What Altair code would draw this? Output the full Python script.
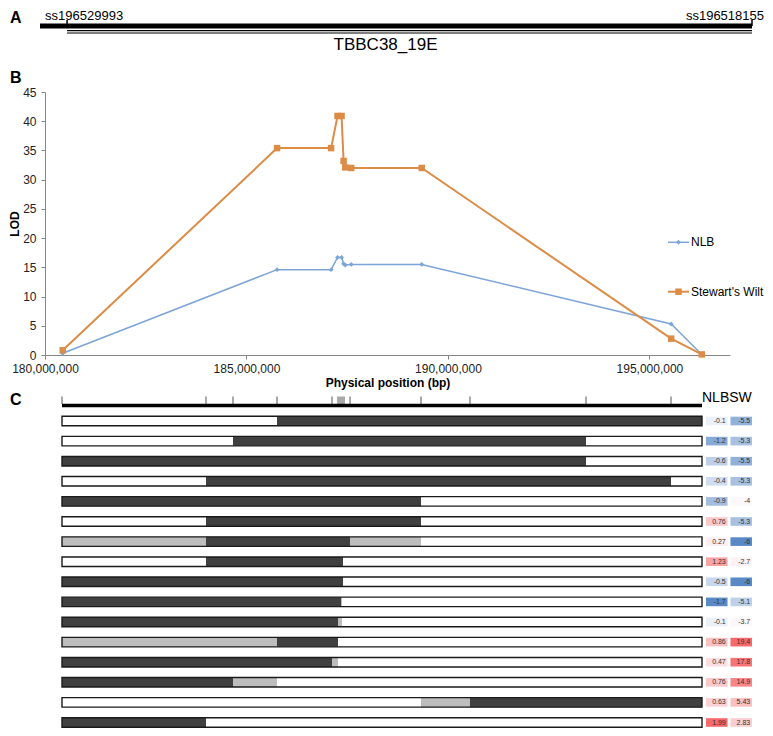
import altair as alt
import numpy as np
import pandas as pd

FONT = "Liberation Sans"

# ---------------- Panel A : physical map of the clone ----------------
a_marker_names = ["ss196529993", "ss196518155"]
a_marker_pos = [0.038, 1.0]          # relative position along the drawn region
a_region = [0.0, 1.0]
a_clone = "TBBC38_19E"

# ---------------- Panel B : LOD profiles ----------------
b_positions = [180440000, 185760000, 187100000, 187260000, 187360000, 187410000,
               187450000, 187600000, 189350000, 195540000, 196300000]
b_lod_nlb = [0.3, 14.6, 14.6, 16.7, 16.7, 15.6, 15.4, 15.5, 15.5, 5.3, 0.1]
b_lod_sw = [0.8, 35.4, 35.4, 40.9, 40.9, 33.2, 32.1, 32.0, 32.0, 2.8, 0.1]
b_series = ["NLB", "Stewart's Wilt"]
b_colors = ["#7DA4D8", "#DC8C46"]
b_xticks = [180000000, 185000000, 190000000, 195000000]
b_yticks = [0, 5, 10, 15, 20, 25, 30, 35, 40, 45]

# ---------------- Panel C : recombinant haplotypes ----------------
c_marker_ticks = [0, 144, 171, 215, 270, 276, 278, 280, 282, 288, 359, 408, 524, 609]
c_length = 640
c_row_breaks = [
    [0, 215, 640],
    [0, 171, 524, 640],
    [0, 524, 640],
    [0, 144, 609, 640],
    [0, 359, 640],
    [0, 144, 359, 640],
    [0, 144, 288, 359, 640],
    [0, 144, 281, 640],
    [0, 281, 640],
    [0, 279, 280, 640],
    [0, 276, 280, 640],
    [0, 215, 276, 640],
    [0, 270, 276, 640],
    [0, 171, 215, 640],
    [0, 359, 408, 640],
    [0, 144, 640],
]
c_row_states = [
    ["W", "D"],
    ["W", "D", "W"],
    ["D", "W"],
    ["W", "D", "W"],
    ["D", "W"],
    ["W", "D", "W"],
    ["G", "D", "G", "W"],
    ["W", "D", "W"],
    ["D", "W"],
    ["D", "G", "W"],
    ["D", "G", "W"],
    ["G", "D", "W"],
    ["D", "G", "W"],
    ["D", "G", "W"],
    ["W", "G", "D"],
    ["D", "W"],
]
c_state_names = ["W", "D", "G"]
c_state_colors = ["#ffffff", "#404040", "#bdbdbd"]
c_columns = ["NLB", "SW"]
c_nlb = [-0.1, -1.2, -0.6, -0.4, -0.9, 0.76, 0.27, 1.23, -0.5, -1.7, -0.1, 0.86, 0.47, 0.76, 0.63, 1.99]
c_sw = [-5.5, -5.3, -5.5, -5.3, -4, -5.3, -6, -2.7, -6, -5.1, -3.7, 19.4, 17.8, 14.9, 5.43, 2.83]
c_scale_colors = ["#5A8AC6", "#FCFCFF", "#F8696B"]

# ---------------- layout ----------------
VIEW_W = 685
ROW_STEP = 20.1
ROW0 = 46.0                      # centre of first row, relative to panel C top
TOP_PAD = 2
A_H, B_H = 62, 263
C_H = ROW0 + 15 * ROW_STEP + 6
LETTER_X = -35


def letter(t, y, baseline):
    return alt.Chart(pd.DataFrame({"t": [t]})).mark_text(
        align="left", baseline=baseline, font=FONT, fontSize=16, fontWeight="bold", color="black"
    ).encode(x=alt.value(LETTER_X), y=alt.value(y), text="t:N")


# ---- Panel A ----
xa = alt.Scale(domain=a_region, range=[-5, 707])
region_df = pd.DataFrame({"start": [a_region[0]], "end": [a_region[1]]})
marker_df = pd.DataFrame({"name": a_marker_names, "pos": a_marker_pos})
clone_df = pd.DataFrame({"start": [a_marker_pos[0]], "end": [a_marker_pos[1]], "name": [a_clone],
                         "mid": [(a_marker_pos[0] + a_marker_pos[1]) / 2]})

a_thick = alt.Chart(region_df).mark_rule(color="black", strokeWidth=5).encode(
    x=alt.X("start:Q", scale=xa, axis=None), x2="end:Q", y=alt.value(16))
a_ticks = alt.Chart(marker_df).mark_rule(color="black", strokeWidth=1.5).encode(
    x=alt.X("pos:Q", scale=xa, axis=None), y=alt.value(10), y2=alt.value(16))
a_lab_l = alt.Chart(marker_df.iloc[[0]]).mark_text(
    align="left", baseline="top", dx=-22, font=FONT, fontSize=13, color="black"
).encode(x=alt.X("pos:Q", scale=xa, axis=None), y=alt.value(0), text="name:N")
a_lab_r = alt.Chart(marker_df.iloc[[1]]).mark_text(
    align="right", baseline="top", dx=12, font=FONT, fontSize=13, color="black"
).encode(x=alt.X("pos:Q", scale=xa, axis=None), y=alt.value(0), text="name:N")
a_dbl1 = alt.Chart(clone_df).mark_rule(color="black", strokeWidth=1.1).encode(
    x=alt.X("start:Q", scale=xa, axis=None), x2="end:Q", y=alt.value(20.6))
a_dbl2 = alt.Chart(clone_df).mark_rule(color="black", strokeWidth=1.1).encode(
    x=alt.X("start:Q", scale=xa, axis=None), x2="end:Q", y=alt.value(23))
a_name = alt.Chart(clone_df).mark_text(
    align="center", baseline="middle", dx=-24, font=FONT, fontSize=17, color="black"
).encode(x=alt.X("mid:Q", scale=xa, axis=None), y=alt.value(35), text="name:N")

panel_a = alt.layer(a_thick, a_ticks, a_lab_l, a_lab_r, a_dbl1, a_dbl2, a_name,
                    letter("A", 0, "top")).properties(width=VIEW_W, height=A_H)

# ---- Panel B ----
n = len(b_positions)
b_df = pd.DataFrame({
    "position": b_positions * 2,
    "lod": b_lod_nlb + b_lod_sw,
    "series": [b_series[0]] * n + [b_series[1]] * n,
})
xb = alt.X("position:Q",
           scale=alt.Scale(domain=[180000000, 197000000], nice=False, zero=False),
           axis=alt.Axis(values=b_xticks, format=",d", title="Physical position (bp)",
                         labelFlush=False, labelPadding=4, titlePadding=3))
yb = alt.Y("lod:Q", scale=alt.Scale(domain=[0, 45], nice=False),
           axis=alt.Axis(values=b_yticks, title="LOD", labelPadding=5, titlePadding=1))
color_b = alt.Color("series:N", scale=alt.Scale(domain=b_series, range=b_colors), legend=None)
shape_b = alt.Shape("series:N", scale=alt.Scale(domain=b_series, range=["diamond", "square"]), legend=None)
size_b = alt.Size("series:N", scale=alt.Scale(domain=b_series, range=[24, 42]), legend=None)
sw_b = alt.StrokeWidth("series:N", scale=alt.Scale(domain=b_series, range=[1.5, 2]), legend=None)

b_lines = alt.Chart(b_df).mark_line().encode(x=xb, y=yb, color=color_b, strokeWidth=sw_b)
b_points = alt.Chart(b_df).mark_point(filled=True, opacity=1).encode(
    x=xb, y=yb, color=color_b, shape=shape_b, size=size_b)

LEG_X0, LEG_X1, LEG_XT = 623, 644, 646
LEG_Y = [150.3, 199.7]
legend_layers = []
for i, name in enumerate(b_series):
    ldf = pd.DataFrame({"series": [name]})
    legend_layers.append(alt.Chart(ldf).mark_rule().encode(
        x=alt.value(LEG_X0), x2=alt.value(LEG_X1), y=alt.value(LEG_Y[i]), color=color_b, strokeWidth=sw_b))
    legend_layers.append(alt.Chart(ldf).mark_point(filled=True, opacity=1).encode(
        x=alt.value((LEG_X0 + LEG_X1) / 2), y=alt.value(LEG_Y[i]), color=color_b, shape=shape_b, size=size_b))
    legend_layers.append(alt.Chart(ldf).mark_text(
        align="left", baseline="middle", font=FONT, fontSize=12, color="black"
    ).encode(x=alt.value(LEG_XT), y=alt.value(LEG_Y[i]), text="series:N"))

panel_b = alt.layer(b_lines, b_points, *legend_layers, letter("B", -8.7, "alphabetic")).properties(
    width=VIEW_W, height=B_H)

# ---- Panel C ----
xc = alt.Scale(domain=[0, c_length], range=[17, 657])
rows = list(range(1, len(c_row_breaks) + 1))
band_start = ROW0 - ROW_STEP / 2
yc = alt.Scale(type="band", domain=rows, range=[band_start, band_start + ROW_STEP * len(rows)],
               paddingInner=0.57, paddingOuter=0.285)

seg_records = []
for r, (br, st) in enumerate(zip(c_row_breaks, c_row_states), start=1):
    for j, s in enumerate(st):
        seg_records.append({"row": r, "start": br[j], "end": br[j + 1], "state": s})
seg_df = pd.DataFrame(seg_records)
row_df = pd.DataFrame({"row": rows, "start": [0] * len(rows), "end": [c_length] * len(rows)})

c_segs = alt.Chart(seg_df).mark_bar(size=9.5).encode(
    x=alt.X("start:Q", scale=xc, axis=None), x2="end:Q",
    y=alt.Y("row:O", scale=yc, axis=None),
    fill=alt.Fill("state:N", scale=alt.Scale(domain=c_state_names, range=c_state_colors), legend=None))
c_outline = alt.Chart(row_df).mark_bar(size=9.5, fillOpacity=0, stroke="#1a1a1a", strokeWidth=1.4).encode(
    x=alt.X("start:Q", scale=xc, axis=None), x2="end:Q",
    y=alt.Y("row:O", scale=yc, axis=None))

tick_df = pd.DataFrame({"pos": c_marker_ticks})
c_ticks = alt.Chart(tick_df).mark_rule(color="#555555", strokeWidth=1).encode(
    x=alt.X("pos:Q", scale=xc, axis=None), y=alt.value(21.5), y2=alt.value(29))
scale_df = pd.DataFrame({"start": [0], "end": [c_length]})
c_line = alt.Chart(scale_df).mark_rule(color="black", strokeWidth=3.5).encode(
    x=alt.X("start:Q", scale=xc, axis=None), x2="end:Q", y=alt.value(30.5))

cell_df = pd.DataFrame({
    "row": rows * 2,
    "col": [c_columns[0]] * len(rows) + [c_columns[1]] * len(rows),
    "value": c_nlb + c_sw,
    "label": [str(v) for v in c_nlb + c_sw],
})
xcell = alt.Scale(type="band", domain=c_columns, range=[661, 707], paddingInner=0.12, paddingOuter=0)
cell_layers = []
for col, vals in zip(c_columns, [c_nlb, c_sw]):
    dom = [float(min(vals)), float(np.median(vals)), float(max(vals))]
    cell_layers.append(alt.Chart(cell_df).transform_filter(alt.datum.col == col).mark_rect().encode(
        x=alt.X("col:N", scale=xcell, axis=None),
        y=alt.Y("row:O", scale=yc, axis=None),
        color=alt.Color("value:Q", scale=alt.Scale(domain=dom, range=c_scale_colors, interpolate="rgb"),
                        legend=None)))
c_cell_text = alt.Chart(cell_df).mark_text(
    align="right", baseline="middle", dx=9, font=FONT, fontSize=7, color="#333333"
).encode(x=alt.X("col:N", scale=xcell, axis=None), y=alt.Y("row:O", scale=yc, axis=None), text="label:N")
c_header = alt.Chart(pd.DataFrame({"t": ["".join(c_columns)]})).mark_text(
    align="left", baseline="alphabetic", font=FONT, fontSize=14, color="black"
).encode(x=alt.value(657), y=alt.value(27), text="t:N")

panel_c = alt.layer(c_segs, c_outline, c_ticks, c_line, *cell_layers, c_cell_text, c_header,
                    letter("C", 30, "alphabetic")).resolve_scale(
    x="independent", color="independent").properties(width=VIEW_W, height=C_H)

chart = alt.vconcat(panel_a, panel_b, panel_c, spacing=20, bounds="flush").properties(
    padding={"top": TOP_PAD, "left": 0, "right": 0, "bottom": 0}
).configure_view(stroke=None).configure_axis(
    grid=False, domainColor="#868686", tickColor="#868686", tickSize=4,
    labelFont=FONT, labelFontSize=12, labelColor="#222222",
    titleFont=FONT, titleFontSize=12, titleFontWeight="bold", titleColor="black"
).configure_text(font=FONT)

chart.save("out.html", embed_options={"renderer": "svg", "actions": False})
